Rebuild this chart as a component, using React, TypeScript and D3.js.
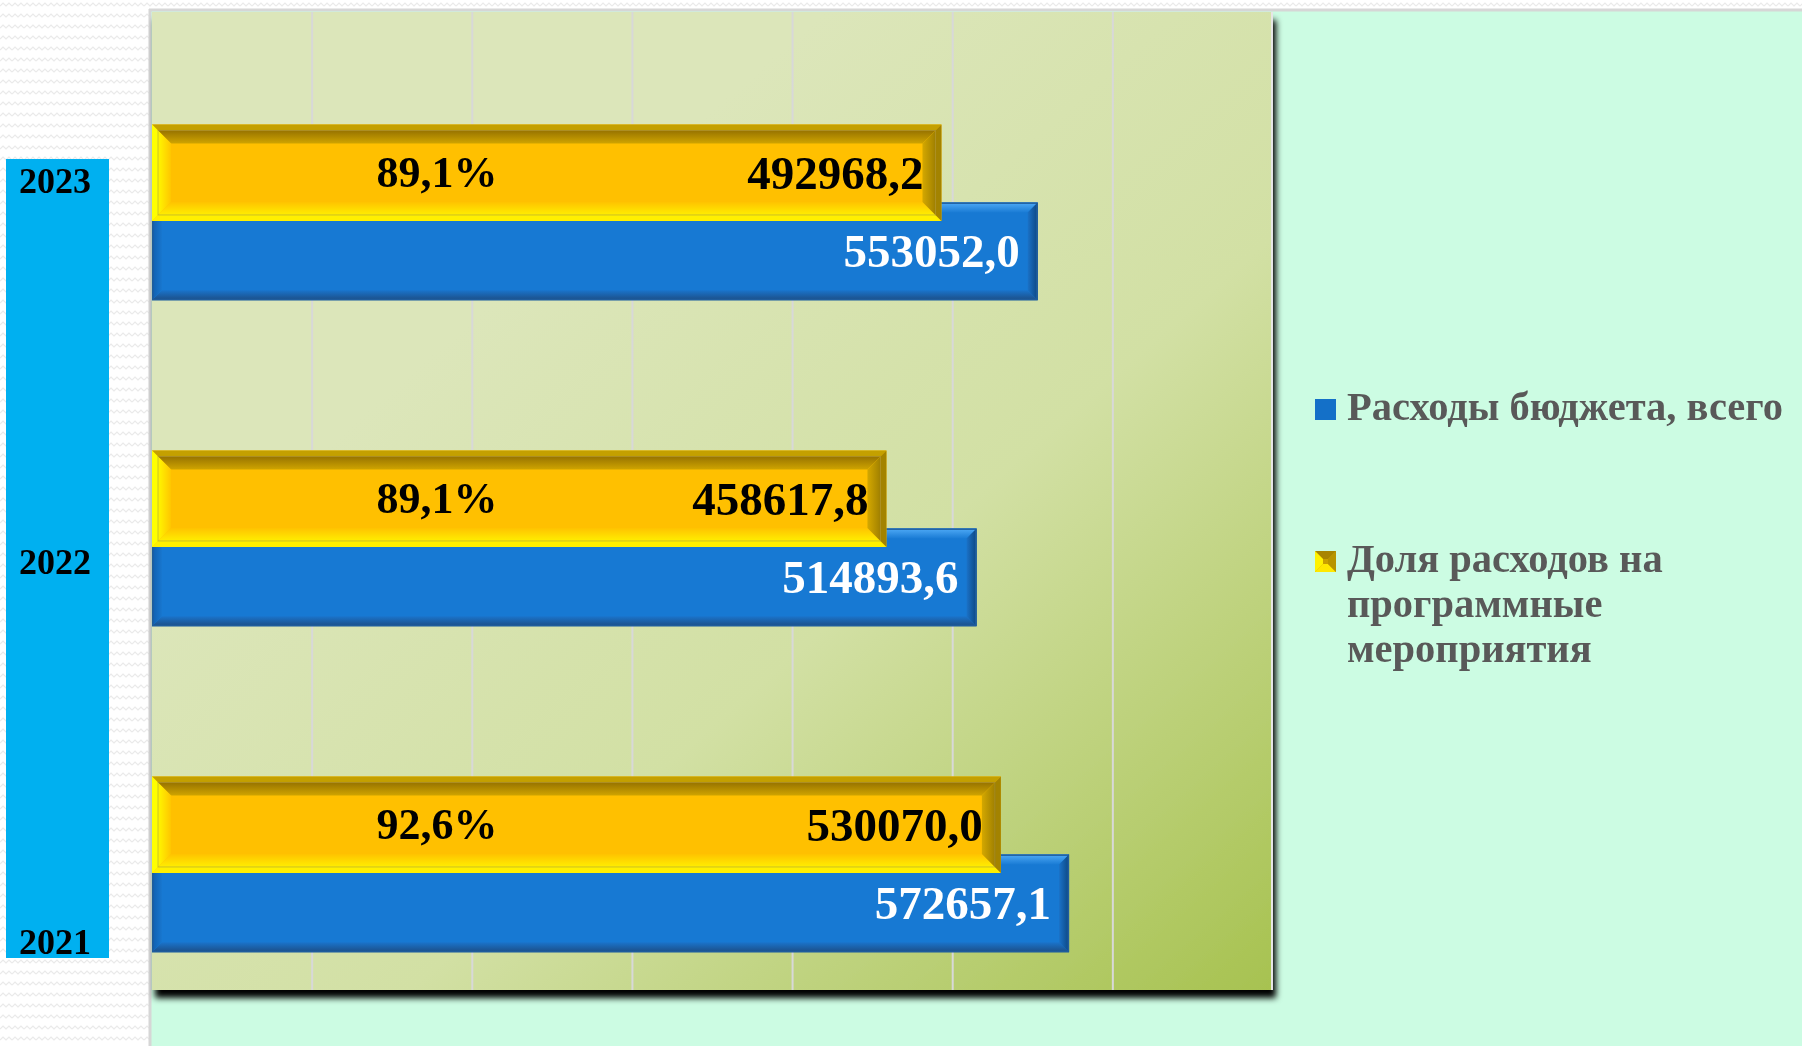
import React from 'react';
import * as d3 from 'd3';

// chart data
const years = ['2023', '2022', '2021'];
const budgetTotal = [553052.0, 514893.6, 572657.1];
const programSpend = [492968.2, 458617.8, 530070.0];
const programShare = ['89,1%', '89,1%', '92,6%'];
const xTicks = [100000, 200000, 300000, 400000, 500000, 600000];
const legendLabels = [
  ['Расходы бюджета, всего'],
  ['Доля расходов на', 'программные', 'мероприятия'],
];

const W = 1802;
const H = 1046;
const FONT = "'Liberation Serif', 'DejaVu Serif', serif";

const plot = { left: 152, right: 1273, top: 12, bottom: 990 };

const fmt = (v: number) => v.toFixed(1).replace('.', ',');

interface BevelColors {
  center: string;
  top: string;
  bottom: string;
  left: string;
  right: string;
}

function Trapezoids({
  x0,
  x1,
  y0,
  y1,
  b,
  c,
}: {
  x0: number;
  x1: number;
  y0: number;
  y1: number;
  b: number;
  c: BevelColors;
}) {
  const pts = (p: number[][]) => p.map((q) => q.join(',')).join(' ');
  return (
    <g>
      <rect x={x0} y={y0} width={x1 - x0} height={y1 - y0} fill={c.center} />
      <polygon
        points={pts([[x0, y0], [x1, y0], [x1 - b, y0 + b], [x0 + b, y0 + b]])}
        fill={c.top}
      />
      <polygon
        points={pts([[x0, y1], [x1, y1], [x1 - b, y1 - b], [x0 + b, y1 - b]])}
        fill={c.bottom}
      />
      <polygon
        points={pts([[x0, y0], [x0 + b, y0 + b], [x0 + b, y1 - b], [x0, y1]])}
        fill={c.left}
      />
      <polygon
        points={pts([[x1, y0], [x1 - b, y0 + b], [x1 - b, y1 - b], [x1, y1]])}
        fill={c.right}
      />
    </g>
  );
}

function YellowBar({ x0, x1, y0, y1 }: { x0: number; x1: number; y0: number; y1: number }) {
  const f = 6;
  return (
    <g>
      <Trapezoids
        x0={x0}
        x1={x1}
        y0={y0}
        y1={y1}
        b={f}
        c={{ center: '#FFC000', top: '#C4A000', bottom: '#FFF000', left: '#FFFF00', right: '#A38300' }}
      />
      <Trapezoids
        x0={x0 + f}
        x1={x1 - f}
        y0={y0 + f}
        y1={y1 - f}
        b={13}
        c={{
          center: '#FFC000',
          top: 'url(#yTop)',
          bottom: 'url(#yBottom)',
          left: 'url(#yLeft)',
          right: 'url(#yRight)',
        }}
      />
      <rect
        x={x0 + f}
        y={y0 + f}
        width={x1 - x0 - 2 * f}
        height={y1 - y0 - 2 * f}
        fill="none"
        stroke="#8C8650"
        strokeOpacity={0.45}
        strokeWidth={1}
      />
    </g>
  );
}

function BlueBar({ x0, x1, y0, y1 }: { x0: number; x1: number; y0: number; y1: number }) {
  return (
    <g>
      <Trapezoids
        x0={x0}
        x1={x1}
        y0={y0}
        y1={y1}
        b={10}
        c={{
          center: '#1779D3',
          top: 'url(#bTop)',
          bottom: 'url(#bBottom)',
          left: 'url(#bLeft)',
          right: 'url(#bRight)',
        }}
      />
      <rect
        x={x0 + 0.75}
        y={y0 + 0.75}
        width={x1 - x0 - 1.5}
        height={y1 - y0 - 1.5}
        fill="none"
        stroke="#1F5C9C"
        strokeWidth={1.5}
      />
    </g>
  );
}

function Grad({ id, from, to, horizontal }: { id: string; from: string; to: string; horizontal?: boolean }) {
  return (
    <linearGradient id={id} x1="0" y1="0" x2={horizontal ? 1 : 0} y2={horizontal ? 0 : 1}>
      <stop offset="0" stopColor={from} />
      <stop offset="1" stopColor={to} />
    </linearGradient>
  );
}

export default function App() {
  const x = d3.scaleLinear().domain([0, 700000]).range([plot.left, plot.right]);
  const y = d3.scaleBand<string>().domain(years).range([plot.top, plot.bottom]);
  const bw = y.bandwidth();
  const yearY = d3.scalePoint<string>().domain(years).range([193, 954]);

  // bar placement inside each category band (Excel overlap look)
  const yellowTop = 0.345;
  const yellowBottom = 0.641;
  const blueTop = 0.584;
  const blueBottom = 0.884;
  const labelPad = 18;
  const shareAnchor = 178000;

  return (
    <div style={{ position: 'fixed', left: 0, top: 0, width: W, height: H }}>
      <svg width={W} height={H} style={{ display: 'block' }}>
        <defs>
          <pattern id="zig" width={12} height={11} patternUnits="userSpaceOnUse">
            <rect width={12} height={11} fill="#FFFFFF" />
            <path d="M0,6 L3,3 L6,6 L9,3 L12,6" fill="none" stroke="#EAEAEA" strokeWidth={1.2} />
          </pattern>
          <linearGradient id="plotFill" x1="0.3" y1="0.3" x2="1" y2="1">
            <stop offset="0" stopColor="#DCE6BA" />
            <stop offset="0.45" stopColor="#D2E0A4" />
            <stop offset="1" stopColor="#A7C250" />
          </linearGradient>
          <filter id="plotShadow" x="-5%" y="-5%" width="112%" height="115%">
            <feDropShadow dx={3} dy={8} stdDeviation={3} floodColor="#000" floodOpacity={1} />
          </filter>
          <Grad id="yTop" from="#977300" to="#CFA400" />
          <Grad id="yBottom" from="#FFC300" to="#FFEE00" />
          <Grad id="yLeft" from="#FFF700" to="#FFC600" horizontal />
          <Grad id="yRight" from="#D4A800" to="#A08000" horizontal />
          <Grad id="bTop" from="#4FAAF6" to="#1A7CD5" />
          <Grad id="bBottom" from="#1A74CC" to="#1C4E86" />
          <Grad id="bLeft" from="#105EAE" to="#1877CF" horizontal />
          <Grad id="bRight" from="#1A72C8" to="#0D4782" horizontal />
        </defs>

        {/* page background */}
        <rect width={W} height={H} fill="url(#zig)" />

        {/* chart area */}
        <rect x={149} y={9} width={W - 149} height={H - 9} fill="#CCFCE3" />
        <line x1={150} y1={9} x2={150} y2={H} stroke="#D6D6D6" strokeWidth={3} />
        <line x1={149} y1={10} x2={W} y2={10} stroke="#D6D6D6" strokeWidth={3} />

        {/* plot area */}
        <rect
          x={plot.left}
          y={plot.top}
          width={plot.right - plot.left}
          height={plot.bottom - plot.top}
          fill="url(#plotFill)"
          filter="url(#plotShadow)"
        />
        {xTicks.map((t) => (
          <line
            key={t}
            x1={x(t)}
            x2={x(t)}
            y1={plot.top}
            y2={plot.bottom}
            stroke="#D8D8D8"
            strokeWidth={2}
          />
        ))}
        <line
          x1={plot.right - 1}
          x2={plot.right - 1}
          y1={plot.top}
          y2={plot.bottom}
          stroke="#E6E6E6"
          strokeWidth={2}
        />

        {/* bars */}
        {years.map((yr, i) => {
          const y0 = y(yr)!;
          return (
            <g key={yr}>
              <BlueBar x0={x(0)} x1={x(budgetTotal[i])} y0={y0 + blueTop * bw} y1={y0 + blueBottom * bw} />
              <YellowBar
                x0={x(0)}
                x1={x(programSpend[i])}
                y0={y0 + yellowTop * bw}
                y1={y0 + yellowBottom * bw}
              />
              <text
                x={x(budgetTotal[i]) - labelPad}
                y={y0 + ((blueTop + blueBottom) / 2) * bw + 16}
                textAnchor="end"
                fontFamily={FONT}
                fontWeight="bold"
                fontSize={47}
                fill="#FFFFFF"
              >
                {fmt(budgetTotal[i])}
              </text>
              <text
                x={x(programSpend[i]) - labelPad}
                y={y0 + ((yellowTop + yellowBottom) / 2) * bw + 16}
                textAnchor="end"
                fontFamily={FONT}
                fontWeight="bold"
                fontSize={47}
                fill="#000000"
              >
                {fmt(programSpend[i])}
              </text>
              <text
                x={x(shareAnchor)}
                y={y0 + ((yellowTop + yellowBottom) / 2) * bw + 14}
                textAnchor="middle"
                fontFamily={FONT}
                fontWeight="bold"
                fontSize={44}
                fill="#000000"
              >
                {programShare[i]}
              </text>
            </g>
          );
        })}

        {/* year labels */}
        <rect x={6} y={159} width={103} height={799} fill="#00B0F0" />
        {years.map((yr) => (
          <text
            key={yr}
            x={55}
            y={yearY(yr)}
            textAnchor="middle"
            fontFamily={FONT}
            fontWeight="bold"
            fontSize={36}
            fill="#000000"
          >
            {yr}
          </text>
        ))}

        {/* legend */}
        {legendLabels.map((lines, i) => {
          const top = 399 + i * 152;
          return (
            <g key={i}>
              {i === 0 ? (
                <rect x={1315} y={top} width={21} height={21} fill="#1470C8" />
              ) : (
                <Trapezoids
                  x0={1315}
                  x1={1336}
                  y0={top}
                  y1={top + 21}
                  b={8}
                  c={{ center: '#C9A000', top: '#A88500', bottom: '#FFE800', left: '#FFF200', right: '#B89400' }}
                />
              )}
              {lines.map((ln, j) => (
                <text
                  key={j}
                  x={1347}
                  y={top + 21 + j * 45}
                  fontFamily={FONT}
                  fontWeight="bold"
                  fontSize={40.5}
                  fill="#595959"
                >
                  {ln}
                </text>
              ))}
            </g>
          );
        })}
      </svg>
    </div>
  );
}
